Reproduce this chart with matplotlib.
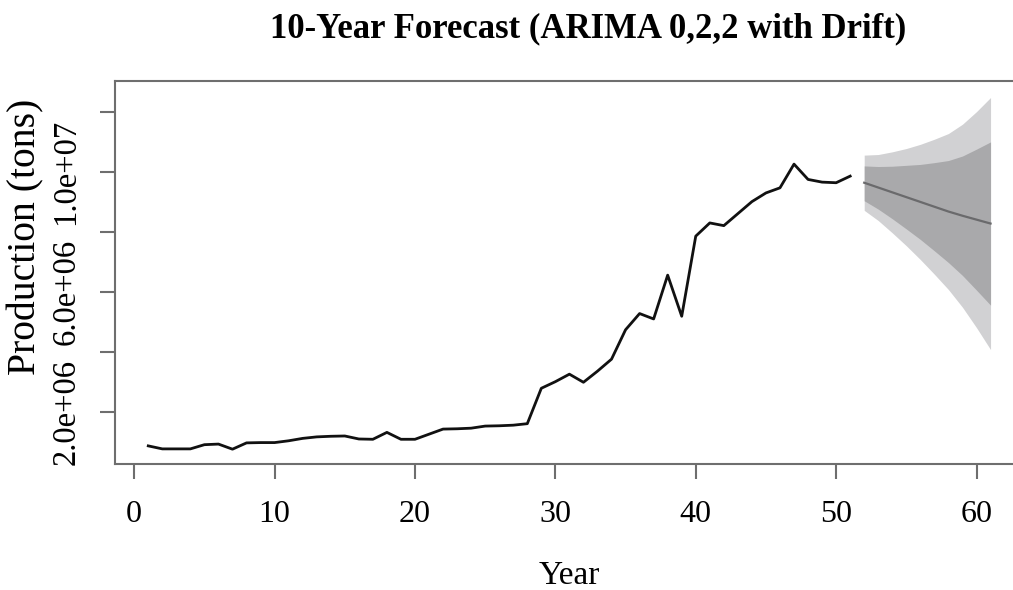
import numpy as np
import matplotlib
matplotlib.use('Agg')
import matplotlib.pyplot as plt

plt.rcParams['font.family'] = ['Liberation Serif', 'DejaVu Serif']

# observed production (millions of tons), years 1..51
years = np.arange(1, 52)
production = [0.86, 0.76, 0.76, 0.76, 0.90, 0.92, 0.75, 0.96, 0.97, 0.97,
              1.03, 1.11, 1.16, 1.18, 1.19, 1.09, 1.08, 1.31, 1.08, 1.08,
              1.25, 1.42, 1.43, 1.45, 1.52, 1.53, 1.55, 1.60, 2.78, 3.00,
              3.25, 2.98, 3.35, 3.75, 4.73, 5.27, 5.09, 6.55, 5.18, 7.85,
              8.29, 8.20, 8.60, 9.00, 9.29, 9.46, 10.25, 9.74, 9.65, 9.63,
              9.85]

# forecast years 52..61
fc_years = np.arange(52, 62)
fc_mean = [9.63, 9.47, 9.31, 9.15, 8.99, 8.83, 8.67, 8.53, 8.40, 8.27]
hi80 = [10.19, 10.17, 10.18, 10.21, 10.24, 10.30, 10.37, 10.52, 10.75, 10.99]
lo80 = [9.03, 8.75, 8.43, 8.09, 7.74, 7.36, 6.97, 6.54, 6.05, 5.55]
hi95 = [10.55, 10.57, 10.66, 10.77, 10.91, 11.08, 11.27, 11.58, 12.00, 12.47]
lo95 = [8.71, 8.37, 7.96, 7.53, 7.07, 6.58, 6.07, 5.48, 4.80, 4.07]

x_ticks = [0, 10, 20, 30, 40, 50, 60]
y_ticks = [2e6, 4e6, 6e6, 8e6, 10e6, 12e6]
y_ticklabels = ['2.0e+06', '', '6.0e+06', '', '1.0e+07', '']

scale = 1e6
fig = plt.figure(figsize=(10.13, 5.9), dpi=100)
ax = fig.add_axes([0.1131, 0.2136, 0.898, 0.6496])

ax.fill_between(fc_years, np.array(lo95) * scale, np.array(hi95) * scale,
                color='#d1d1d3', lw=0)
ax.fill_between(fc_years, np.array(lo80) * scale, np.array(hi80) * scale,
                color='#a9a9ab', lw=0)
ax.plot(fc_years, np.array(fc_mean) * scale, color='#6a6a6c', lw=1.6)
ax.plot(years, np.array(production) * scale, color='#111111', lw=2.0)

ax.set_xlim(-1.4, 63.4)
ax.set_ylim(0.257e6, 13.03e6)
ax.set_xticks(x_ticks)
ax.set_yticks(y_ticks)
ax.set_yticklabels(y_ticklabels, rotation=90, va='center')

for s in ax.spines.values():
    s.set_color('#6e6e6e')
    s.set_linewidth(1.5)
ax.tick_params(axis='both', colors='#6e6e6e', width=1.5, length=11,
               labelcolor='black')
ax.tick_params(axis='x', pad=15, labelsize=23)
ax.tick_params(axis='y', pad=13, labelsize=23.5)

ax.set_xlabel('Year', fontsize=24)
ax.xaxis.set_label_coords(0.4995, -0.252)
ax.set_ylabel('Production (tons)', fontsize=28.5, va='center')
ax.yaxis.set_label_coords(-0.097, 0.592)

fig.text(0.581, 0.951, '10-Year Forecast (ARIMA 0,2,2 with Drift)',
         ha='center', va='center', fontsize=25, fontweight='bold')

fig.savefig('out.png', dpi=100)
